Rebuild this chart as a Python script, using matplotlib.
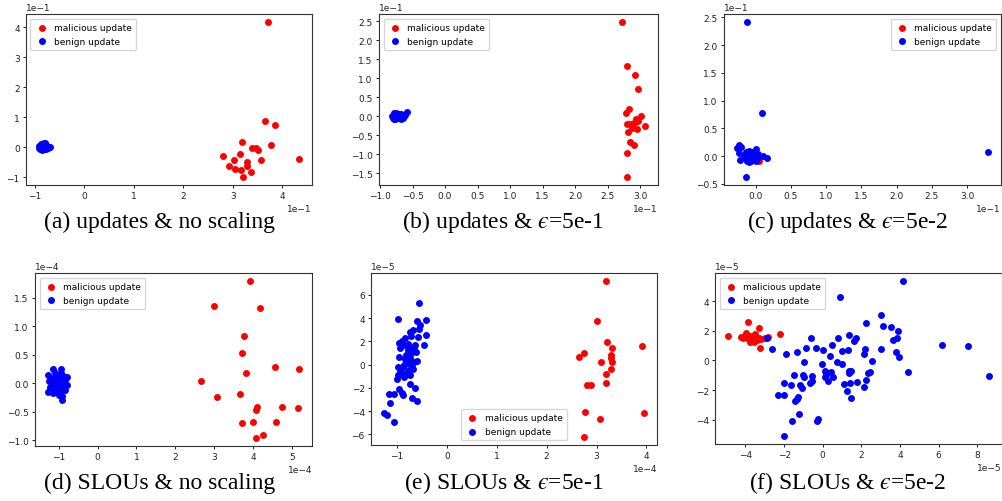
import numpy as np
import matplotlib
matplotlib.use('Agg')
import matplotlib.pyplot as plt
from matplotlib.ticker import MultipleLocator

plt.rcParams['font.family'] = 'DejaVu Sans'
plt.rcParams['mathtext.fontset'] = 'stix'

# values below are in units of the axis offset (e.g. 1e-1), scaled when drawn

# (a) updates, no scaling -- both axes x 1e-1
a_mal_x = [3.72, 3.66, 3.86, 3.19, 3.77, 3.40, 3.47, 3.52, 2.81, 3.15,
           3.57, 3.28, 3.02, 2.92, 3.28, 3.04, 3.16, 3.36, 3.21, 4.34]
a_mal_y = [4.18, 0.865, 0.75, 0.18, 0.09, -0.01, -0.04, -0.09, -0.28, -0.23,
           -0.43, -0.48, -0.43, -0.61, -0.62, -0.74, -0.75, -0.82, -1.0, -0.39]
a_ben_x = [-0.92, -0.90, -0.89, -0.88, -0.87, -0.86, -0.85, -0.84, -0.83, -0.82,
           -0.81, -0.80, -0.79, -0.78, -0.77, -0.76, -0.75, -0.74, -0.72, -0.70,
           -0.88, -0.85, -0.83, -0.81, -0.79, -0.86, -0.84, -0.80, -0.91, -0.82]
a_ben_y = [-0.02, 0.03, -0.06, 0.06, 0.01, -0.04, 0.09, 0.02, -0.07, 0.13,
           0.05, -0.03, 0.14, 0.08, -0.05, 0.04, 0.0, -0.02, 0.02, 0.01,
           0.10, -0.08, 0.11, -0.01, 0.06, 0.07, -0.03, 0.09, 0.04, -0.05]

# (b) updates, eps=5e-1 -- both axes x 1e-1
b_mal_x = [2.72, 2.80, 2.92, 2.97, 2.78, 2.83, 2.80, 2.85, 2.94, 2.97,
           3.02, 3.08, 2.82, 2.88, 2.95, 2.85, 2.91, 2.79, 2.79, 2.90]
b_mal_y = [2.49, 1.33, 1.08, 0.72, 0.09, 0.18, -0.20, -0.20, -0.08, -0.13,
           0.01, -0.26, -0.43, -0.32, -0.33, -0.67, -0.76, -0.96, -1.61, -0.17]
b_ben_x = [-0.82, -0.80, -0.79, -0.78, -0.77, -0.76, -0.75, -0.74, -0.73, -0.72,
           -0.71, -0.70, -0.69, -0.68, -0.67, -0.66, -0.65, -0.63, -0.61, -0.58,
           -0.79, -0.76, -0.74, -0.72, -0.70, -0.68, -0.66, -0.78, -0.73, -0.64]
b_ben_y = [0.0, -0.04, 0.05, 0.09, -0.07, 0.02, 0.06, -0.03, 0.04, -0.06,
           0.07, 0.01, -0.05, 0.03, 0.06, -0.02, -0.06, 0.0, 0.04, 0.11,
           -0.08, 0.08, -0.06, 0.05, -0.04, -0.07, 0.02, 0.03, 0.0, -0.03]

# (c) updates, eps=5e-2 -- both axes x 1e-1
c_mal_x = [-0.09, -0.07, -0.06, -0.05, -0.04, -0.03, -0.02, -0.01, 0.0, 0.01,
           0.02, 0.03, 0.05, -0.08, -0.05, -0.02, 0.01, 0.03, -0.06, 0.0]
c_mal_y = [0.0, -0.03, 0.02, -0.05, 0.01, -0.02, 0.03, -0.06, 0.0, -0.03,
           0.02, -0.05, -0.09, 0.03, -0.01, -0.04, 0.04, 0.0, -0.06, -0.02]
c_ben_x = [-0.12, 0.09, 3.30, -0.13, -0.27, -0.24, -0.21, -0.23, -0.22, 0.16, 0.0, 0.10,
           -0.16, -0.14, -0.13, -0.12, -0.11, -0.10, -0.09, -0.08, -0.07, -0.06,
           -0.05, -0.04, -0.03, -0.02, -0.01, 0.0, 0.01, 0.02, 0.03, 0.03,
           -0.12, -0.09, -0.06, -0.03, 0.0, 0.02, -0.10, -0.04, 0.01, -0.08]
c_ben_y = [2.42, 0.78, 0.08, -0.38, 0.14, 0.20, 0.16, 0.06, -0.07, -0.03, 0.12, 0.01,
           0.02, -0.05, 0.08, -0.08, 0.05, -0.02, 0.09, -0.06, 0.03, -0.09,
           0.07, -0.04, 0.01, -0.07, 0.05, -0.03, 0.02, -0.06, 0.04, -0.01,
           -0.03, 0.0, 0.06, -0.05, -0.09, 0.01, -0.10, 0.04, -0.04, 0.08]

# (d) SLOUs, no scaling -- both axes x 1e-4
d_mal_x = [3.93, 2.99, 4.18, 3.77, 3.71, 4.58, 5.20, 3.82, 2.66, 3.07,
           3.67, 4.11, 4.07, 4.75, 5.17, 3.71, 4.01, 4.59, 4.25, 4.09]
d_mal_y = [1.80, 1.35, 1.33, 0.84, 0.53, 0.28, 0.25, 0.19, 0.04, -0.23,
           -0.19, -0.41, -0.47, -0.42, -0.44, -0.70, -0.68, -0.67, -0.90, -0.96]
d_ben_x = [-1.29, -1.27, -1.25, -1.23, -1.21, -1.19, -1.17, -1.15, -1.13, -1.11,
           -1.09, -1.07, -1.05, -1.03, -1.01, -0.99, -0.97, -0.95, -0.93, -0.91,
           -0.89, -0.87, -0.85, -0.83, -0.80, -0.78, -1.15, -0.94, -0.92, -1.24,
           -1.20, -1.10, -1.00, -0.96, -1.06, -1.14, -0.90, -1.02, -1.18, -0.88]
d_ben_y = [0.14, -0.15, 0.05, -0.06, 0.10, -0.12, 0.00, 0.25, -0.08, 0.07,
           -0.14, 0.12, -0.03, 0.04, -0.10, 0.15, -0.18, 0.26, -0.29, 0.08,
           -0.05, 0.02, -0.12, 0.06, 0.11, -0.02, -0.16, 0.19, -0.22, -0.09,
           0.08, 0.18, -0.20, -0.06, 0.10, -0.04, 0.13, -0.15, 0.03, -0.08]

# (e) SLOUs, eps=5e-1 -- x in 1e-4, y in 1e-5
e_mal_x = [3.18, 3.01, 3.21, 3.30, 3.91, 3.29, 2.74, 2.64, 3.08, 3.30,
           3.28, 3.18, 3.19, 2.81, 2.88, 2.77, 3.07, 3.95, 2.75, 3.28]
e_mal_y = [7.22, 3.80, 1.99, 1.44, 1.64, 0.83, 1.04, 0.69, 0.23, 0.23,
           -0.37, -0.78, -1.58, -1.78, -1.73, -4.09, -4.66, -4.14, -6.24, 0.55]
e_ben_x = [-0.55, -0.97, -0.41, -0.60, -0.53, -0.55, -0.68, -0.41, -0.58, -0.71,
           -0.83, -0.95, -0.93, -0.45, -0.63, -0.83, -0.73, -0.77, -0.61, -0.71,
           -0.95, -0.84, -0.73, -0.66, -0.78, -0.98, -0.87, -0.69, -0.75, -0.81,
           -0.97, -0.86, -1.00, -0.73, -0.67, -0.74, -0.63, -0.95, -0.90, -1.05,
           -1.15, -0.87, -0.69, -0.59, -1.14, -1.26, -1.20, -1.06, -0.78, -0.85,
           -0.59, -0.66, -0.74, -0.89, -0.81, -0.93, -0.70, -0.77]
e_ben_y = [5.29, 3.94, 3.86, 3.74, 3.45, 3.08, 2.96, 2.56, 2.36, 2.45,
           2.33, 1.90, 1.44, 1.70, 1.73, 1.67, 1.44, 1.30, 1.09, 0.98,
           0.66, 0.52, 0.58, 0.23, 0.14, -0.17, -0.23, -0.17, -0.46, -0.72,
           -0.86, -1.06, -1.27, -0.86, -0.35, -1.70, -2.01, -2.07, -2.42, -2.56,
           -2.56, -2.59, -2.85, -3.14, -3.31, -4.14, -4.35, -4.92, -0.78, 0.00,
           0.35, 1.38, 2.82, 2.01, 0.81, -0.63, 0.23, 1.78]

# (f) SLOUs, eps=5e-2 -- both axes x 1e-5
f_mal_x = [-4.90, -3.88, -3.32, -2.22, -2.82, -3.24, -4.21, -4.03, -3.91, -3.77,
           -3.64, -3.50, -3.77, -3.39, -3.17, -3.00, -4.12, -3.95, -3.55, -3.29]
f_mal_y = [1.64, 2.56, 2.20, 1.75, 1.57, 0.83, 1.60, 1.66, 1.53, 1.66,
           1.48, 1.75, 1.26, 1.37, 1.44, 1.53, 1.48, 1.82, 1.26, 1.53]
f_ben_x = [4.14, 0.92, 3.00, 3.13, 3.52, 2.23, 3.91, 3.83, 3.65, 3.78,
           3.95, 3.00, 6.16, 7.53, 8.61, 4.42, 2.56, 2.46, 2.37, 2.18,
           2.15, 2.22, 2.13, 1.77, 1.47, 1.28, 1.42, 1.11, 1.35, 1.37,
           1.49, 1.35, 1.61, 1.70, 1.32, 1.02, 0.81, 0.74, 1.00, 0.47,
           0.38, 0.03, -0.36, -0.62, -0.88, -1.32, -1.89, -2.60, -2.87, -0.95,
           -0.05, 0.12, 0.17, 0.45, 0.55, 0.28, 0.14, -0.54, -0.55, -1.00,
           -0.95, -1.47, -1.18, -1.06, -0.68, -1.66, -1.99, -2.29, -1.99, -1.28,
           -1.33, -1.42, -1.21, -1.61, -0.31, -0.26, -2.03]
f_ben_y = [5.37, 4.27, 3.03, 2.31, 2.22, 2.49, 1.98, 1.48, 1.35, 0.58,
           0.22, 0.76, 1.06, 0.97, -1.03, -0.79, -0.04, -0.81, -0.88, 0.76,
           0.45, -1.30, -1.78, -1.46, -2.56, -2.07, -1.55, -1.57, -0.88, -0.72,
           -0.72, 1.73, 1.30, 1.48, 0.70, 0.65, 1.51, -0.09, -0.22, 1.06,
           0.31, 0.70, 0.85, 1.51, 0.83, 0.56, 0.43, 0.74, 1.48, -0.09,
           -0.27, -0.70, -0.99, -0.79, -1.12, -1.37, -1.10, -1.06, -1.39, -0.99,
           -1.10, -1.01, -1.69, -1.84, -1.55, -1.66, -1.55, -2.31, -2.31, -2.47,
           -2.61, -2.74, -3.62, -4.11, -4.11, -3.98, -5.12]

eps = '$\u03f5$'  # lunate epsilon
captions = ['(a) updates & no scaling',
            '(b) updates & ' + eps + '=5e-1',
            '(c) updates & ' + eps + '=5e-2',
            '(d) SLOUs & no scaling',
            '(e) SLOUs & ' + eps + '=5e-1',
            '(f) SLOUs & ' + eps + '=5e-2']

panels = [
    # data, (xscale, yscale), (xstep, ystep), legend loc, axes rect, caption pos
    ((a_mal_x, a_mal_y, a_ben_x, a_ben_y), (1e-1, 1e-1), (1, 1), 'upper left',
     [0.0259, 0.6295, 0.2851, 0.3406], (0.159, 0.557)),
    ((b_mal_x, b_mal_y, b_ben_x, b_ben_y), (1e-1, 1e-1), (0.5, 0.5), 'upper left',
     [0.3779, 0.6295, 0.2782, 0.3406], (0.502, 0.557)),
    ((c_mal_x, c_mal_y, c_ben_x, c_ben_y), (1e-1, 1e-1), (0.5, 0.5), 'upper right',
     [0.7218, 0.6295, 0.2762, 0.3406], (0.845, 0.557)),
    ((d_mal_x, d_mal_y, d_ben_x, d_ben_y), (1e-4, 1e-4), (1, 0.5), 'upper left',
     [0.0349, 0.1096, 0.2762, 0.3446], (0.159, 0.038)),
    ((e_mal_x, e_mal_y, e_ben_x, e_ben_y), (1e-4, 1e-5), (1, 2), 'lower center',
     [0.3699, 0.1116, 0.2851, 0.3426], (0.502, 0.038)),
    ((f_mal_x, f_mal_y, f_ben_x, f_ben_y), (1e-5, 1e-5), (2, 2), 'upper left',
     [0.7129, 0.1135, 0.2861, 0.3406], (0.845, 0.038)),
]

fig = plt.figure(figsize=(10.03, 5.02), dpi=100)

for (data, scale, step, loc, rect, cpos), caption in zip(panels, captions):
    mx, my, bx, by = data
    sx, sy = scale
    ax = fig.add_axes(rect)
    ax.scatter(np.array(mx) * sx, np.array(my) * sy, s=25, c='red',
               linewidths=0, label='malicious update')
    ax.scatter(np.array(bx) * sx, np.array(by) * sy, s=25, c='blue',
               linewidths=0, label='benign update')
    ax.xaxis.set_major_locator(MultipleLocator(step[0] * sx))
    ax.yaxis.set_major_locator(MultipleLocator(step[1] * sy))
    ax.ticklabel_format(style='sci', axis='both', scilimits=(0, 0))
    ax.tick_params(labelsize=6.5, length=2.5, width=0.7, pad=2, colors='#222222')
    ax.xaxis.get_offset_text().set_fontsize(6.5)
    ax.yaxis.get_offset_text().set_fontsize(6.5)
    for sp in ax.spines.values():
        sp.set_linewidth(0.8)
        sp.set_color('#333333')
    ax.legend(loc=loc, fontsize=6.5, handletextpad=0.6, borderpad=0.5,
              labelspacing=0.5, handlelength=1.5)
    fig.text(cpos[0], cpos[1], caption, ha='center', va='center',
             fontsize=17, family='Liberation Serif')

fig.savefig('out.png', dpi=100)
